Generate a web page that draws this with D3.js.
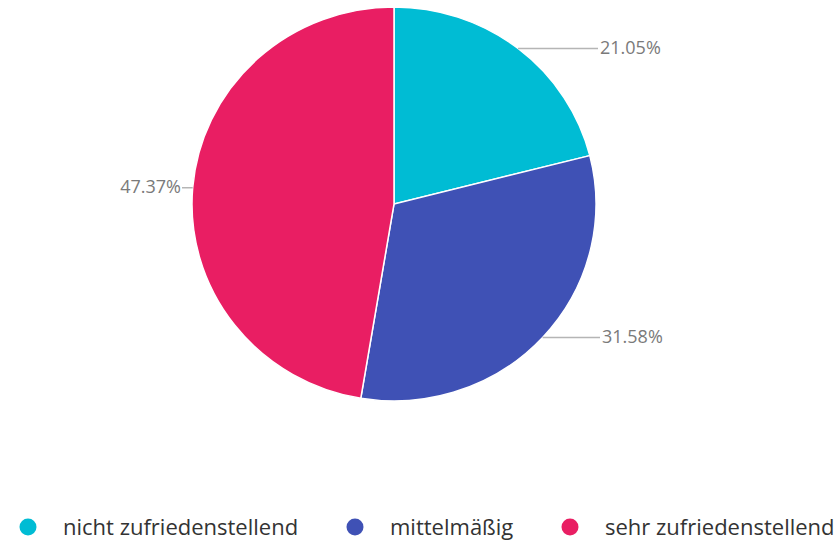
<!DOCTYPE html>
<html>
<head>
<meta charset="utf-8">
<script src="https://cdn.jsdelivr.net/npm/d3@7"></script>
<style>
  body { margin: 0; background: #fff; }
  text { font-family: "Open Sans", sans-serif; }
</style>
</head>
<body>
<svg id="chart" width="836" height="546"></svg>
<script>
var categories = ['nicht zufriedenstellend', 'mittelmäßig', 'sehr zufriedenstellend'];
var values = [21.05, 31.58, 47.37];
var colors = ['#00BCD4', '#3F51B5', '#E91E63'];

var svg = d3.select('#chart');
var cx = 394, cy = 204, rx = 202, ry = 197;

var pie = d3.pie().sort(null).value(function(d){ return d; });
var arcs = pie(values);
var arc = d3.arc().innerRadius(0).outerRadius(rx);

// pie is slightly squashed vertically in the reference
var g = svg.append('g').attr('transform', 'translate(' + cx + ',' + cy + ')');
g.append('g')
    .attr('transform', 'scale(1,' + (ry / rx) + ')')
    .selectAll('path')
    .data(arcs)
    .enter()
    .append('path')
    .attr('d', arc)
    .attr('fill', function(d, i){ return colors[i]; })
    .attr('stroke', '#fff')
    .attr('stroke-width', 1.5);

// leader lines: horizontal from arc midpoint outward
var lineEnd = [204, 206, -212];
arcs.forEach(function(d, i){
    var mid = (d.startAngle + d.endAngle) / 2;
    var px = rx * Math.sin(mid), py = -ry * Math.cos(mid);
    var right = px > 0;
    g.append('line')
        .attr('x1', px).attr('y1', py)
        .attr('x2', lineEnd[i]).attr('y2', py)
        .attr('stroke', '#b5b5b5').attr('stroke-width', 1.5);
    g.append('text')
        .attr('x', right ? lineEnd[i] + 2 : lineEnd[i] - 1)
        .attr('y', py - 1)
        .attr('dy', '0.35em')
        .attr('text-anchor', right ? 'start' : 'end')
        .style('font-size', '18px')
        .attr('fill', '#7a7a7a')
        .text(values[i].toFixed(2) + '%');
});

// legend
var legendX = d3.scaleOrdinal().domain(categories).range([28, 355, 570]);
var legend = svg.append('g').attr('transform', 'translate(0,527)');
var items = legend.selectAll('g')
    .data(categories)
    .enter()
    .append('g')
    .attr('transform', function(d){ return 'translate(' + legendX(d) + ',0)'; });
items.append('circle')
    .attr('r', 8.5)
    .attr('fill', function(d, i){ return colors[i]; });
items.append('text')
    .attr('x', 35)
    .attr('dy', '0.35em')
    .style('font-size', '22px')
    .attr('fill', '#333')
    .text(function(d){ return d; });
</script>
</body>
</html>
